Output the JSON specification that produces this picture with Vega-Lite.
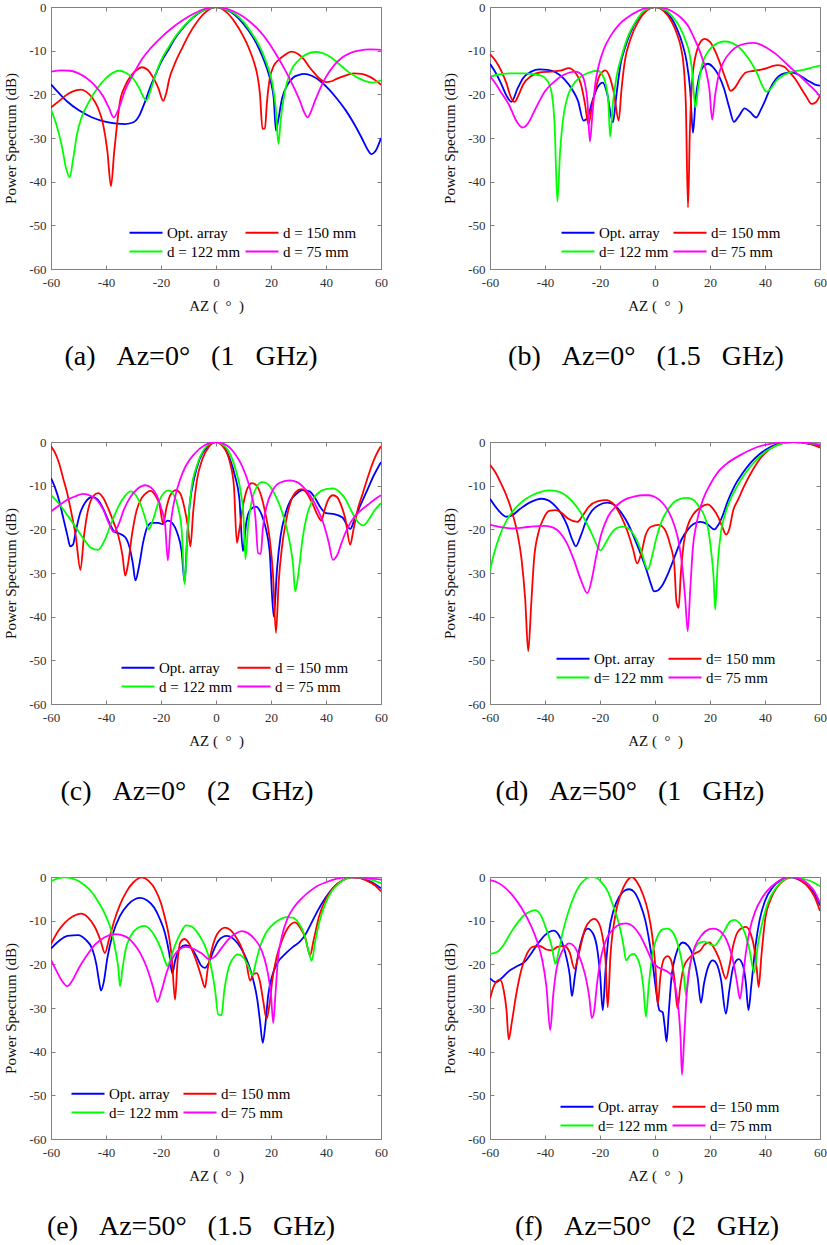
{
"$schema": "https://vega.github.io/schema/vega-lite/v6.json",
"padding": {"left": 3, "top": 0, "right": 2, "bottom": 0},
"background": "white",
"datasets": {
"a": [
{"s":"O","x":-60,"y":-17.7},{"s":"O","x":-57,"y":-19.8},{"s":"O","x":-54,"y":-21.7},{"s":"O","x":-50,"y":-23.6},{"s":"O","x":-45,"y":-25.3},{"s":"O","x":-40,"y":-26.3},{"s":"O","x":-36,"y":-26.7},{"s":"O","x":-33,"y":-26.8},{"s":"O","x":-30,"y":-26.4},{"s":"O","x":-28,"y":-25},{"s":"O","x":-26,"y":-22},{"s":"O","x":-24,"y":-18.5},{"s":"O","x":-22,"y":-15.5},{"s":"O","x":-20,"y":-12.7},{"s":"O","x":-17,"y":-9.5},{"s":"O","x":-15,"y":-7.3},{"s":"O","x":-12,"y":-4.8},{"s":"O","x":-10,"y":-3.4},{"s":"O","x":-7,"y":-1.7},{"s":"O","x":-4,"y":-0.6},{"s":"O","x":0,"y":0},{"s":"O","x":4,"y":-0.7},{"s":"O","x":7,"y":-1.9},{"s":"O","x":10,"y":-3.9},{"s":"O","x":13,"y":-6.5},{"s":"O","x":15,"y":-8.7},{"s":"O","x":17,"y":-11.5},{"s":"O","x":19,"y":-15},{"s":"O","x":20,"y":-17.3},{"s":"O","x":21,"y":-21},{"s":"O","x":21.8,"y":-28.3},{"s":"O","x":22.6,"y":-26},{"s":"O","x":24,"y":-21},{"s":"O","x":26,"y":-17.8},{"s":"O","x":28,"y":-16.2},{"s":"O","x":30,"y":-15.6},{"s":"O","x":32,"y":-15.3},{"s":"O","x":35,"y":-15.8},{"s":"O","x":38,"y":-17},{"s":"O","x":41,"y":-18.8},{"s":"O","x":44,"y":-21},{"s":"O","x":47,"y":-23.5},{"s":"O","x":50,"y":-26.5},{"s":"O","x":53,"y":-30},{"s":"O","x":55,"y":-32.5},{"s":"O","x":56.5,"y":-33.7},{"s":"O","x":58,"y":-33},{"s":"O","x":60,"y":-30},
{"s":"R","x":-60,"y":-23},{"s":"R","x":-57,"y":-21.5},{"s":"R","x":-54,"y":-20},{"s":"R","x":-51,"y":-19.1},{"s":"R","x":-49,"y":-18.9},{"s":"R","x":-47,"y":-19.5},{"s":"R","x":-45,"y":-20.8},{"s":"R","x":-43,"y":-23},{"s":"R","x":-41,"y":-27},{"s":"R","x":-39.5,"y":-33},{"s":"R","x":-38.2,"y":-41},{"s":"R","x":-37,"y":-33},{"s":"R","x":-36,"y":-27},{"s":"R","x":-35,"y":-22},{"s":"R","x":-33,"y":-18},{"s":"R","x":-31,"y":-15.8},{"s":"R","x":-29,"y":-14.5},{"s":"R","x":-27,"y":-13.8},{"s":"R","x":-25,"y":-14.3},{"s":"R","x":-23,"y":-16},{"s":"R","x":-21,"y":-18.5},{"s":"R","x":-19.2,"y":-21.5},{"s":"R","x":-18,"y":-19.5},{"s":"R","x":-17,"y":-16.5},{"s":"R","x":-15,"y":-13},{"s":"R","x":-12,"y":-9},{"s":"R","x":-10,"y":-6.5},{"s":"R","x":-7,"y":-3.5},{"s":"R","x":-4,"y":-1.3},{"s":"R","x":0,"y":0},{"s":"R","x":4,"y":-1.3},{"s":"R","x":7,"y":-3.6},{"s":"R","x":10,"y":-6.8},{"s":"R","x":12,"y":-9.5},{"s":"R","x":14,"y":-13},{"s":"R","x":15,"y":-15.5},{"s":"R","x":16,"y":-20},{"s":"R","x":16.9,"y":-27.9},{"s":"R","x":17.8,"y":-27.8},{"s":"R","x":18.5,"y":-22},{"s":"R","x":19.5,"y":-16.5},{"s":"R","x":21,"y":-13.5},{"s":"R","x":23,"y":-12},{"s":"R","x":25,"y":-11},{"s":"R","x":27.3,"y":-10.2},{"s":"R","x":30,"y":-10.8},{"s":"R","x":32,"y":-12},{"s":"R","x":34,"y":-13.8},{"s":"R","x":36,"y":-15.3},{"s":"R","x":38,"y":-16.6},{"s":"R","x":40,"y":-17.2},{"s":"R","x":42,"y":-17},{"s":"R","x":44,"y":-16.4},{"s":"R","x":47,"y":-15.7},{"s":"R","x":50,"y":-15.2},{"s":"R","x":53,"y":-15.3},{"s":"R","x":56,"y":-16},{"s":"R","x":58,"y":-16.8},{"s":"R","x":60,"y":-17.8},
{"s":"G","x":-60,"y":-23.5},{"s":"G","x":-58,"y":-27},{"s":"G","x":-56,"y":-32},{"s":"G","x":-54.5,"y":-37},{"s":"G","x":-53.2,"y":-39},{"s":"G","x":-52,"y":-35},{"s":"G","x":-50.5,"y":-29},{"s":"G","x":-49,"y":-25.5},{"s":"G","x":-46,"y":-21.5},{"s":"G","x":-43,"y":-18.5},{"s":"G","x":-40,"y":-16.3},{"s":"G","x":-37,"y":-14.9},{"s":"G","x":-35,"y":-14.6},{"s":"G","x":-33,"y":-15},{"s":"G","x":-30,"y":-16.5},{"s":"G","x":-28,"y":-18.5},{"s":"G","x":-26.5,"y":-20.5},{"s":"G","x":-25.3,"y":-21.4},{"s":"G","x":-24,"y":-19.5},{"s":"G","x":-22,"y":-15.5},{"s":"G","x":-20,"y":-12.3},{"s":"G","x":-17,"y":-9},{"s":"G","x":-15,"y":-7},{"s":"G","x":-12,"y":-4.6},{"s":"G","x":-10,"y":-3.3},{"s":"G","x":-7,"y":-1.6},{"s":"G","x":-4,"y":-0.6},{"s":"G","x":0,"y":0},{"s":"G","x":4,"y":-0.6},{"s":"G","x":7,"y":-1.6},{"s":"G","x":10,"y":-3.4},{"s":"G","x":13,"y":-6},{"s":"G","x":15,"y":-8},{"s":"G","x":17,"y":-10.6},{"s":"G","x":19,"y":-14},{"s":"G","x":20.5,"y":-17.5},{"s":"G","x":21.7,"y":-23},{"s":"G","x":22.7,"y":-31.4},{"s":"G","x":23.5,"y":-26},{"s":"G","x":25,"y":-19.5},{"s":"G","x":27,"y":-15},{"s":"G","x":30,"y":-12.2},{"s":"G","x":33,"y":-10.8},{"s":"G","x":36,"y":-10.3},{"s":"G","x":39,"y":-10.6},{"s":"G","x":42,"y":-11.6},{"s":"G","x":45,"y":-13.2},{"s":"G","x":48,"y":-14.8},{"s":"G","x":51,"y":-16},{"s":"G","x":54,"y":-16.9},{"s":"G","x":57,"y":-17.3},{"s":"G","x":60,"y":-16.8},
{"s":"M","x":-60,"y":-14.8},{"s":"M","x":-56,"y":-14.5},{"s":"M","x":-53,"y":-14.6},{"s":"M","x":-50,"y":-15.2},{"s":"M","x":-47,"y":-16.3},{"s":"M","x":-44,"y":-18},{"s":"M","x":-41,"y":-20.5},{"s":"M","x":-39,"y":-23},{"s":"M","x":-37.2,"y":-25.3},{"s":"M","x":-35.5,"y":-23.5},{"s":"M","x":-33,"y":-19},{"s":"M","x":-30,"y":-15.3},{"s":"M","x":-27,"y":-12},{"s":"M","x":-24,"y":-9.6},{"s":"M","x":-20,"y":-7},{"s":"M","x":-16,"y":-4.8},{"s":"M","x":-12,"y":-3},{"s":"M","x":-8,"y":-1.5},{"s":"M","x":-4,"y":-0.4},{"s":"M","x":0,"y":0},{"s":"M","x":4,"y":-0.4},{"s":"M","x":8,"y":-1.5},{"s":"M","x":12,"y":-3.2},{"s":"M","x":16,"y":-5.6},{"s":"M","x":19,"y":-8},{"s":"M","x":22,"y":-11},{"s":"M","x":25,"y":-14.3},{"s":"M","x":28,"y":-18},{"s":"M","x":30.5,"y":-21.5},{"s":"M","x":32,"y":-24},{"s":"M","x":33.3,"y":-25.3},{"s":"M","x":34.5,"y":-24},{"s":"M","x":36,"y":-21.5},{"s":"M","x":38,"y":-18.5},{"s":"M","x":40,"y":-16},{"s":"M","x":43,"y":-13.3},{"s":"M","x":46,"y":-11.5},{"s":"M","x":49,"y":-10.5},{"s":"M","x":52,"y":-10},{"s":"M","x":56,"y":-9.7},{"s":"M","x":60,"y":-9.8}
],
"b": [
{"s":"O","x":-60,"y":-13},{"s":"O","x":-58,"y":-15},{"s":"O","x":-56,"y":-17.5},{"s":"O","x":-54,"y":-20.3},{"s":"O","x":-52.2,"y":-21.7},{"s":"O","x":-50,"y":-18.7},{"s":"O","x":-48,"y":-16.3},{"s":"O","x":-45,"y":-14.8},{"s":"O","x":-42,"y":-14.3},{"s":"O","x":-39,"y":-14.4},{"s":"O","x":-36,"y":-15},{"s":"O","x":-33,"y":-16.5},{"s":"O","x":-30,"y":-19},{"s":"O","x":-28,"y":-21.5},{"s":"O","x":-26,"y":-26},{"s":"O","x":-24.5,"y":-25.3},{"s":"O","x":-23,"y":-22},{"s":"O","x":-21,"y":-18.5},{"s":"O","x":-19,"y":-17.3},{"s":"O","x":-17.5,"y":-19.5},{"s":"O","x":-15.3,"y":-26.4},{"s":"O","x":-14,"y":-20},{"s":"O","x":-12.5,"y":-13},{"s":"O","x":-11,"y":-9.5},{"s":"O","x":-9,"y":-6},{"s":"O","x":-6,"y":-2.5},{"s":"O","x":-3,"y":-0.6},{"s":"O","x":0,"y":0},{"s":"O","x":3,"y":-0.6},{"s":"O","x":6,"y":-2.6},{"s":"O","x":8,"y":-5},{"s":"O","x":10,"y":-8.5},{"s":"O","x":11.5,"y":-12.5},{"s":"O","x":12.8,"y":-19},{"s":"O","x":13.8,"y":-28.8},{"s":"O","x":14.8,"y":-21},{"s":"O","x":16,"y":-16},{"s":"O","x":17.5,"y":-13.7},{"s":"O","x":19.2,"y":-13},{"s":"O","x":21,"y":-13.7},{"s":"O","x":23,"y":-15.5},{"s":"O","x":25,"y":-18.5},{"s":"O","x":27,"y":-23},{"s":"O","x":28.7,"y":-26.3},{"s":"O","x":30.5,"y":-25},{"s":"O","x":32.6,"y":-23.2},{"s":"O","x":34.5,"y":-24},{"s":"O","x":36.8,"y":-25.3},{"s":"O","x":38.5,"y":-23.5},{"s":"O","x":40,"y":-21.5},{"s":"O","x":42,"y":-18.5},{"s":"O","x":44,"y":-16.5},{"s":"O","x":47,"y":-15.2},{"s":"O","x":50,"y":-15},{"s":"O","x":53,"y":-15.8},{"s":"O","x":56,"y":-17},{"s":"O","x":58,"y":-17.7},{"s":"O","x":60,"y":-18},
{"s":"R","x":-60,"y":-10.8},{"s":"R","x":-58,"y":-12.3},{"s":"R","x":-56,"y":-14.5},{"s":"R","x":-54,"y":-17.5},{"s":"R","x":-52.5,"y":-20.5},{"s":"R","x":-51,"y":-21.7},{"s":"R","x":-49.5,"y":-20},{"s":"R","x":-48,"y":-17.8},{"s":"R","x":-45,"y":-15.8},{"s":"R","x":-42,"y":-15},{"s":"R","x":-38,"y":-14.8},{"s":"R","x":-34,"y":-14.5},{"s":"R","x":-31.4,"y":-14},{"s":"R","x":-29,"y":-15},{"s":"R","x":-27,"y":-17.5},{"s":"R","x":-25.5,"y":-22},{"s":"R","x":-24.2,"y":-26.9},{"s":"R","x":-23,"y":-23},{"s":"R","x":-21.5,"y":-18.5},{"s":"R","x":-20,"y":-15.5},{"s":"R","x":-18,"y":-14.5},{"s":"R","x":-16.5,"y":-16},{"s":"R","x":-15,"y":-19.5},{"s":"R","x":-13.2,"y":-26},{"s":"R","x":-12.2,"y":-19},{"s":"R","x":-11,"y":-12.5},{"s":"R","x":-9,"y":-7.5},{"s":"R","x":-6,"y":-3.2},{"s":"R","x":-3,"y":-0.8},{"s":"R","x":0,"y":0},{"s":"R","x":3,"y":-0.8},{"s":"R","x":6,"y":-3.3},{"s":"R","x":8,"y":-6.2},{"s":"R","x":9.5,"y":-9.5},{"s":"R","x":10.5,"y":-14},{"s":"R","x":11.2,"y":-22},{"s":"R","x":12,"y":-45.9},{"s":"R","x":12.7,"y":-28},{"s":"R","x":13.5,"y":-17},{"s":"R","x":15,"y":-10.5},{"s":"R","x":16.5,"y":-8},{"s":"R","x":18,"y":-7.3},{"s":"R","x":20,"y":-8},{"s":"R","x":22,"y":-10.3},{"s":"R","x":24,"y":-13.5},{"s":"R","x":26,"y":-17},{"s":"R","x":27.5,"y":-19.2},{"s":"R","x":29,"y":-18.5},{"s":"R","x":31,"y":-16.5},{"s":"R","x":33,"y":-15},{"s":"R","x":36,"y":-14.6},{"s":"R","x":39,"y":-14.3},{"s":"R","x":42,"y":-13.7},{"s":"R","x":44.7,"y":-13.3},{"s":"R","x":47,"y":-13.7},{"s":"R","x":49,"y":-15},{"s":"R","x":51,"y":-16.5},{"s":"R","x":53,"y":-18.5},{"s":"R","x":55,"y":-20.5},{"s":"R","x":56.9,"y":-22.2},{"s":"R","x":58.5,"y":-21.8},{"s":"R","x":60,"y":-20.3},
{"s":"G","x":-60,"y":-15.9},{"s":"G","x":-56,"y":-15.4},{"s":"G","x":-52,"y":-15.2},{"s":"G","x":-48,"y":-15.2},{"s":"G","x":-44,"y":-15.4},{"s":"G","x":-41,"y":-15.8},{"s":"G","x":-39,"y":-17},{"s":"G","x":-37.5,"y":-20},{"s":"G","x":-36.5,"y":-27},{"s":"G","x":-35.5,"y":-44.6},{"s":"G","x":-34.5,"y":-33},{"s":"G","x":-33.5,"y":-26},{"s":"G","x":-32,"y":-21},{"s":"G","x":-30,"y":-18},{"s":"G","x":-27,"y":-16},{"s":"G","x":-24,"y":-15},{"s":"G","x":-21,"y":-14.6},{"s":"G","x":-19.5,"y":-15.2},{"s":"G","x":-18,"y":-17.5},{"s":"G","x":-17,"y":-21.5},{"s":"G","x":-16.3,"y":-29.7},{"s":"G","x":-15.3,"y":-22},{"s":"G","x":-14,"y":-16},{"s":"G","x":-12,"y":-11},{"s":"G","x":-10,"y":-7},{"s":"G","x":-7,"y":-3.3},{"s":"G","x":-4,"y":-0.9},{"s":"G","x":0,"y":0},{"s":"G","x":4,"y":-0.8},{"s":"G","x":7,"y":-2.7},{"s":"G","x":9,"y":-4.6},{"s":"G","x":11,"y":-7.5},{"s":"G","x":12.5,"y":-10.5},{"s":"G","x":13.5,"y":-14.5},{"s":"G","x":14.7,"y":-23},{"s":"G","x":15.8,"y":-18},{"s":"G","x":17,"y":-13.5},{"s":"G","x":19,"y":-10.5},{"s":"G","x":21,"y":-9},{"s":"G","x":23,"y":-8.2},{"s":"G","x":25.3,"y":-7.9},{"s":"G","x":28,"y":-8.2},{"s":"G","x":31,"y":-9.5},{"s":"G","x":34,"y":-11.8},{"s":"G","x":37,"y":-15},{"s":"G","x":39,"y":-18},{"s":"G","x":40.5,"y":-19.4},{"s":"G","x":42,"y":-18.8},{"s":"G","x":44,"y":-17},{"s":"G","x":47,"y":-15.5},{"s":"G","x":50,"y":-14.8},{"s":"G","x":54,"y":-14.4},{"s":"G","x":57,"y":-13.9},{"s":"G","x":60,"y":-13.4},
{"s":"M","x":-60,"y":-15.9},{"s":"M","x":-58,"y":-17.5},{"s":"M","x":-56,"y":-19.5},{"s":"M","x":-53,"y":-22.5},{"s":"M","x":-50.5,"y":-26},{"s":"M","x":-48.2,"y":-27.6},{"s":"M","x":-46,"y":-26.5},{"s":"M","x":-44,"y":-24},{"s":"M","x":-42,"y":-21.5},{"s":"M","x":-40,"y":-19.3},{"s":"M","x":-37,"y":-17.3},{"s":"M","x":-34,"y":-15.8},{"s":"M","x":-31,"y":-15},{"s":"M","x":-29,"y":-14.8},{"s":"M","x":-27,"y":-15.3},{"s":"M","x":-25.5,"y":-17.5},{"s":"M","x":-24.5,"y":-22},{"s":"M","x":-23.7,"y":-30.8},{"s":"M","x":-22.8,"y":-25},{"s":"M","x":-21.8,"y":-18},{"s":"M","x":-20.5,"y":-13.5},{"s":"M","x":-18.5,"y":-9.5},{"s":"M","x":-16,"y":-6.5},{"s":"M","x":-13,"y":-4},{"s":"M","x":-10,"y":-2.4},{"s":"M","x":-6,"y":-0.9},{"s":"M","x":-3,"y":-0.2},{"s":"M","x":0,"y":0},{"s":"M","x":3,"y":-0.2},{"s":"M","x":6,"y":-0.9},{"s":"M","x":9,"y":-2.2},{"s":"M","x":12,"y":-4.3},{"s":"M","x":14.5,"y":-7.5},{"s":"M","x":16.5,"y":-10.5},{"s":"M","x":18.5,"y":-14.5},{"s":"M","x":19.8,"y":-19},{"s":"M","x":20.8,"y":-25.8},{"s":"M","x":21.8,"y":-20.5},{"s":"M","x":23,"y":-16},{"s":"M","x":25,"y":-12.5},{"s":"M","x":27.5,"y":-10.3},{"s":"M","x":30,"y":-9},{"s":"M","x":33,"y":-8.4},{"s":"M","x":35.6,"y":-8.2},{"s":"M","x":38,"y":-8.5},{"s":"M","x":41,"y":-9.5},{"s":"M","x":44,"y":-10.8},{"s":"M","x":47,"y":-12.5},{"s":"M","x":50,"y":-14.3},{"s":"M","x":53,"y":-16},{"s":"M","x":56,"y":-17.8},{"s":"M","x":58,"y":-19},{"s":"M","x":60,"y":-20.5}
],
"c": [
{"s":"O","x":-60,"y":-8.3},{"s":"O","x":-58.5,"y":-10.5},{"s":"O","x":-57,"y":-13.5},{"s":"O","x":-55.5,"y":-17.5},{"s":"O","x":-54,"y":-21.5},{"s":"O","x":-53,"y":-23.9},{"s":"O","x":-52,"y":-23.5},{"s":"O","x":-51,"y":-20.5},{"s":"O","x":-49.5,"y":-16.5},{"s":"O","x":-47.5,"y":-13.8},{"s":"O","x":-45,"y":-12.6},{"s":"O","x":-43,"y":-13.2},{"s":"O","x":-41,"y":-15.3},{"s":"O","x":-39,"y":-18.2},{"s":"O","x":-37,"y":-20.5},{"s":"O","x":-35,"y":-21},{"s":"O","x":-33,"y":-21.8},{"s":"O","x":-31.5,"y":-24},{"s":"O","x":-30.2,"y":-28},{"s":"O","x":-29.3,"y":-31.7},{"s":"O","x":-28,"y":-28.5},{"s":"O","x":-26.5,"y":-23},{"s":"O","x":-25,"y":-19.5},{"s":"O","x":-23.5,"y":-18.5},{"s":"O","x":-21,"y":-18.5},{"s":"O","x":-19.5,"y":-18.8},{"s":"O","x":-17.5,"y":-18},{"s":"O","x":-16,"y":-18.5},{"s":"O","x":-14,"y":-21},{"s":"O","x":-12.5,"y":-25},{"s":"O","x":-11.4,"y":-32.1},{"s":"O","x":-10.5,"y":-22},{"s":"O","x":-9.5,"y":-14},{"s":"O","x":-8,"y":-8.5},{"s":"O","x":-6,"y":-4},{"s":"O","x":-3,"y":-1},{"s":"O","x":0,"y":0},{"s":"O","x":3,"y":-1.2},{"s":"O","x":5,"y":-3.8},{"s":"O","x":7,"y":-8},{"s":"O","x":8.5,"y":-13},{"s":"O","x":9.8,"y":-25},{"s":"O","x":11,"y":-18.5},{"s":"O","x":12.5,"y":-15.5},{"s":"O","x":14.5,"y":-14.8},{"s":"O","x":16.5,"y":-16.5},{"s":"O","x":18,"y":-19.5},{"s":"O","x":19.5,"y":-25},{"s":"O","x":21,"y":-40},{"s":"O","x":22.2,"y":-29},{"s":"O","x":23.5,"y":-21.5},{"s":"O","x":25,"y":-17},{"s":"O","x":27,"y":-13.5},{"s":"O","x":29,"y":-12},{"s":"O","x":31.5,"y":-11},{"s":"O","x":34,"y":-11.3},{"s":"O","x":36,"y":-12.8},{"s":"O","x":38,"y":-15},{"s":"O","x":40,"y":-16.3},{"s":"O","x":43,"y":-16.5},{"s":"O","x":46,"y":-17.3},{"s":"O","x":48.8,"y":-19.9},{"s":"O","x":50.5,"y":-17.5},{"s":"O","x":52.5,"y":-14.5},{"s":"O","x":55,"y":-11},{"s":"O","x":57.5,"y":-7.5},{"s":"O","x":60,"y":-4.6},
{"s":"R","x":-60,"y":-1},{"s":"R","x":-58.5,"y":-2.5},{"s":"R","x":-57,"y":-5},{"s":"R","x":-55.5,"y":-8.5},{"s":"R","x":-54,"y":-12},{"s":"R","x":-52.5,"y":-16.5},{"s":"R","x":-51,"y":-21.5},{"s":"R","x":-49.3,"y":-29.3},{"s":"R","x":-48,"y":-21.5},{"s":"R","x":-46.5,"y":-15.5},{"s":"R","x":-44.5,"y":-12.3},{"s":"R","x":-42.9,"y":-11.7},{"s":"R","x":-41,"y":-12.8},{"s":"R","x":-39,"y":-15.5},{"s":"R","x":-37,"y":-18.8},{"s":"R","x":-35.5,"y":-21.5},{"s":"R","x":-34,"y":-26},{"s":"R","x":-33,"y":-30.6},{"s":"R","x":-32,"y":-28},{"s":"R","x":-30.5,"y":-21},{"s":"R","x":-29,"y":-16},{"s":"R","x":-27,"y":-12.8},{"s":"R","x":-25,"y":-11.5},{"s":"R","x":-23.9,"y":-11.2},{"s":"R","x":-22,"y":-12.3},{"s":"R","x":-20.5,"y":-14.5},{"s":"R","x":-19.2,"y":-18.7},{"s":"R","x":-18,"y":-15},{"s":"R","x":-16.5,"y":-12},{"s":"R","x":-14.5,"y":-11},{"s":"R","x":-13,"y":-11.8},{"s":"R","x":-11.5,"y":-15},{"s":"R","x":-10.2,"y":-19.5},{"s":"R","x":-9.3,"y":-23.9},{"s":"R","x":-8.3,"y":-16},{"s":"R","x":-7,"y":-9},{"s":"R","x":-5,"y":-4},{"s":"R","x":-2.5,"y":-1},{"s":"R","x":0,"y":0},{"s":"R","x":2.5,"y":-1},{"s":"R","x":5,"y":-4.5},{"s":"R","x":6.5,"y":-10},{"s":"R","x":7.6,"y":-23.1},{"s":"R","x":8.5,"y":-20},{"s":"R","x":10,"y":-14},{"s":"R","x":11.5,"y":-10.5},{"s":"R","x":13.1,"y":-9.4},{"s":"R","x":15,"y":-10.2},{"s":"R","x":16.5,"y":-12.5},{"s":"R","x":18,"y":-16.5},{"s":"R","x":19.5,"y":-22},{"s":"R","x":20.7,"y":-30},{"s":"R","x":21.8,"y":-43.7},{"s":"R","x":22.8,"y":-32},{"s":"R","x":24,"y":-24},{"s":"R","x":25.5,"y":-18},{"s":"R","x":27,"y":-14},{"s":"R","x":29,"y":-11.5},{"s":"R","x":31,"y":-10.8},{"s":"R","x":33,"y":-11.7},{"s":"R","x":35,"y":-14},{"s":"R","x":37,"y":-16.8},{"s":"R","x":38.3,"y":-18},{"s":"R","x":39.5,"y":-15.5},{"s":"R","x":41,"y":-13},{"s":"R","x":42.5,"y":-12.2},{"s":"R","x":44,"y":-12.6},{"s":"R","x":45.5,"y":-14.5},{"s":"R","x":47,"y":-17.5},{"s":"R","x":48.8,"y":-23.5},{"s":"R","x":50,"y":-20},{"s":"R","x":51.5,"y":-15.5},{"s":"R","x":53.5,"y":-11.5},{"s":"R","x":55.5,"y":-7.5},{"s":"R","x":57.5,"y":-4},{"s":"R","x":59,"y":-2},{"s":"R","x":60,"y":-1},
{"s":"G","x":-60,"y":-12.1},{"s":"G","x":-57,"y":-14.2},{"s":"G","x":-54,"y":-16.8},{"s":"G","x":-51,"y":-19.5},{"s":"G","x":-48,"y":-22.3},{"s":"G","x":-45.5,"y":-24.2},{"s":"G","x":-42.9,"y":-24.7},{"s":"G","x":-40.5,"y":-22.5},{"s":"G","x":-38,"y":-18.5},{"s":"G","x":-35.5,"y":-14.8},{"s":"G","x":-33,"y":-12.3},{"s":"G","x":-31.1,"y":-11.3},{"s":"G","x":-29,"y":-12.3},{"s":"G","x":-27,"y":-15},{"s":"G","x":-25.5,"y":-18},{"s":"G","x":-24.5,"y":-20},{"s":"G","x":-23,"y":-18},{"s":"G","x":-21,"y":-14},{"s":"G","x":-19,"y":-11.7},{"s":"G","x":-17.2,"y":-11.1},{"s":"G","x":-15.5,"y":-12},{"s":"G","x":-14,"y":-14.5},{"s":"G","x":-12.5,"y":-20},{"s":"G","x":-11.4,"y":-32.6},{"s":"G","x":-10.3,"y":-20},{"s":"G","x":-9,"y":-11},{"s":"G","x":-7,"y":-5.5},{"s":"G","x":-4.5,"y":-1.8},{"s":"G","x":-2,"y":-0.3},{"s":"G","x":0,"y":0},{"s":"G","x":2,"y":-0.4},{"s":"G","x":4.5,"y":-2},{"s":"G","x":7,"y":-6},{"s":"G","x":9,"y":-11.5},{"s":"G","x":10,"y":-17},{"s":"G","x":10.7,"y":-26.8},{"s":"G","x":11.7,"y":-19},{"s":"G","x":13,"y":-13.5},{"s":"G","x":14.8,"y":-10.3},{"s":"G","x":16.7,"y":-9.2},{"s":"G","x":18.5,"y":-9.5},{"s":"G","x":20.5,"y":-11},{"s":"G","x":22.5,"y":-13.5},{"s":"G","x":24.5,"y":-17},{"s":"G","x":26.5,"y":-22},{"s":"G","x":28,"y":-28},{"s":"G","x":28.8,"y":-34.2},{"s":"G","x":30,"y":-30},{"s":"G","x":31.5,"y":-22},{"s":"G","x":33,"y":-17},{"s":"G","x":35,"y":-13.5},{"s":"G","x":38,"y":-11.3},{"s":"G","x":40,"y":-10.8},{"s":"G","x":42.6,"y":-10.6},{"s":"G","x":45,"y":-11.5},{"s":"G","x":47,"y":-13},{"s":"G","x":49,"y":-15.5},{"s":"G","x":51,"y":-17.8},{"s":"G","x":53.6,"y":-19.1},{"s":"G","x":55.5,"y":-17.8},{"s":"G","x":57.5,"y":-15.8},{"s":"G","x":60,"y":-14},
{"s":"M","x":-60,"y":-15.9},{"s":"M","x":-57,"y":-14.5},{"s":"M","x":-54,"y":-13.2},{"s":"M","x":-51,"y":-12.4},{"s":"M","x":-48.4,"y":-11.9},{"s":"M","x":-45.5,"y":-12.3},{"s":"M","x":-43,"y":-13.5},{"s":"M","x":-41,"y":-15.5},{"s":"M","x":-39,"y":-18.5},{"s":"M","x":-37.2,"y":-20.6},{"s":"M","x":-35.5,"y":-19},{"s":"M","x":-33.5,"y":-15.5},{"s":"M","x":-31,"y":-12.5},{"s":"M","x":-28.5,"y":-10.7},{"s":"M","x":-25.7,"y":-9.9},{"s":"M","x":-23.5,"y":-10.5},{"s":"M","x":-21.5,"y":-12.3},{"s":"M","x":-20,"y":-15},{"s":"M","x":-18.5,"y":-19},{"s":"M","x":-17.5,"y":-27.1},{"s":"M","x":-16.5,"y":-19},{"s":"M","x":-15,"y":-13},{"s":"M","x":-13,"y":-8.5},{"s":"M","x":-11,"y":-5.5},{"s":"M","x":-8,"y":-2.8},{"s":"M","x":-4,"y":-0.7},{"s":"M","x":0,"y":0},{"s":"M","x":4,"y":-0.8},{"s":"M","x":7,"y":-2.8},{"s":"M","x":9.5,"y":-5.5},{"s":"M","x":11.5,"y":-8.8},{"s":"M","x":13,"y":-12.3},{"s":"M","x":14.3,"y":-17},{"s":"M","x":15.3,"y":-25.4},{"s":"M","x":16.3,"y":-25.6},{"s":"M","x":17,"y":-20},{"s":"M","x":18.5,"y":-14.5},{"s":"M","x":20.5,"y":-11.2},{"s":"M","x":23,"y":-9.4},{"s":"M","x":26.7,"y":-8.8},{"s":"M","x":29.5,"y":-9.2},{"s":"M","x":32,"y":-10.5},{"s":"M","x":34.5,"y":-12.5},{"s":"M","x":37,"y":-15.5},{"s":"M","x":39,"y":-18.5},{"s":"M","x":41,"y":-23},{"s":"M","x":42.5,"y":-27},{"s":"M","x":44,"y":-26},{"s":"M","x":46,"y":-22.5},{"s":"M","x":48,"y":-19.5},{"s":"M","x":50.5,"y":-17},{"s":"M","x":53,"y":-15.5},{"s":"M","x":56,"y":-14},{"s":"M","x":58,"y":-13},{"s":"M","x":60,"y":-12.2}
],
"d": [
{"s":"O","x":-60,"y":-13},{"s":"O","x":-58,"y":-14.8},{"s":"O","x":-56,"y":-16.3},{"s":"O","x":-54,"y":-17.1},{"s":"O","x":-52,"y":-16.8},{"s":"O","x":-49,"y":-15.3},{"s":"O","x":-46,"y":-14},{"s":"O","x":-43,"y":-13.2},{"s":"O","x":-41.5,"y":-13},{"s":"O","x":-39,"y":-13.3},{"s":"O","x":-36.5,"y":-14.5},{"s":"O","x":-34,"y":-16.5},{"s":"O","x":-32,"y":-19},{"s":"O","x":-30,"y":-22.5},{"s":"O","x":-28.8,"y":-23.9},{"s":"O","x":-27,"y":-21.5},{"s":"O","x":-25,"y":-18},{"s":"O","x":-23,"y":-15.8},{"s":"O","x":-20.5,"y":-14.5},{"s":"O","x":-17.3,"y":-13.9},{"s":"O","x":-15,"y":-14.3},{"s":"O","x":-12.5,"y":-16},{"s":"O","x":-10,"y":-18.5},{"s":"O","x":-7.5,"y":-22},{"s":"O","x":-5,"y":-26},{"s":"O","x":-3,"y":-29.5},{"s":"O","x":-1.5,"y":-32.5},{"s":"O","x":-0.4,"y":-34.2},{"s":"O","x":1,"y":-34},{"s":"O","x":2.5,"y":-33},{"s":"O","x":4.5,"y":-30.5},{"s":"O","x":7,"y":-26.5},{"s":"O","x":9.5,"y":-22.5},{"s":"O","x":12,"y":-20},{"s":"O","x":14,"y":-18.8},{"s":"O","x":16.5,"y":-18.3},{"s":"O","x":19,"y":-18.8},{"s":"O","x":21.6,"y":-20},{"s":"O","x":23,"y":-19},{"s":"O","x":24.5,"y":-17},{"s":"O","x":26.5,"y":-13.5},{"s":"O","x":29,"y":-10},{"s":"O","x":32,"y":-7},{"s":"O","x":35,"y":-4.6},{"s":"O","x":38,"y":-2.8},{"s":"O","x":41,"y":-1.5},{"s":"O","x":44,"y":-0.6},{"s":"O","x":47,"y":-0.1},{"s":"O","x":50,"y":0},{"s":"O","x":53,"y":-0.1},{"s":"O","x":56,"y":-0.4},{"s":"O","x":60,"y":-0.9},
{"s":"R","x":-60,"y":-5.2},{"s":"R","x":-58,"y":-7},{"s":"R","x":-56,"y":-9.5},{"s":"R","x":-54,"y":-12.3},{"s":"R","x":-52,"y":-16},{"s":"R","x":-50,"y":-21},{"s":"R","x":-48.5,"y":-27},{"s":"R","x":-47.2,"y":-36},{"s":"R","x":-46.1,"y":-47.9},{"s":"R","x":-45,"y":-37},{"s":"R","x":-44,"y":-27},{"s":"R","x":-42.5,"y":-21},{"s":"R","x":-40.5,"y":-17.5},{"s":"R","x":-38.5,"y":-15.8},{"s":"R","x":-36.1,"y":-15.6},{"s":"R","x":-34,"y":-16.2},{"s":"R","x":-31.5,"y":-17.6},{"s":"R","x":-28.2,"y":-18.3},{"s":"R","x":-26.5,"y":-17},{"s":"R","x":-24,"y":-14.8},{"s":"R","x":-21,"y":-13.6},{"s":"R","x":-17.7,"y":-13.3},{"s":"R","x":-15,"y":-14.3},{"s":"R","x":-12.5,"y":-16.8},{"s":"R","x":-10,"y":-20.5},{"s":"R","x":-8,"y":-24.5},{"s":"R","x":-6.5,"y":-27.8},{"s":"R","x":-5,"y":-25.5},{"s":"R","x":-3.5,"y":-21.5},{"s":"R","x":-1.5,"y":-19.4},{"s":"R","x":1.4,"y":-19},{"s":"R","x":3.5,"y":-20},{"s":"R","x":5.5,"y":-23.5},{"s":"R","x":7,"y":-28},{"s":"R","x":7.8,"y":-36.5},{"s":"R","x":8.6,"y":-38},{"s":"R","x":9.4,"y":-30},{"s":"R","x":10.5,"y":-23},{"s":"R","x":12,"y":-19},{"s":"R","x":14,"y":-16.5},{"s":"R","x":16.5,"y":-15},{"s":"R","x":19.2,"y":-14.3},{"s":"R","x":21,"y":-15.2},{"s":"R","x":23,"y":-17.2},{"s":"R","x":24.5,"y":-19.5},{"s":"R","x":25.9,"y":-21.2},{"s":"R","x":27,"y":-20},{"s":"R","x":28.5,"y":-15.5},{"s":"R","x":30,"y":-13.5},{"s":"R","x":32.5,"y":-10},{"s":"R","x":35,"y":-7},{"s":"R","x":38,"y":-4},{"s":"R","x":41,"y":-2},{"s":"R","x":44,"y":-0.8},{"s":"R","x":47,"y":-0.2},{"s":"R","x":50,"y":0},{"s":"R","x":53,"y":-0.1},{"s":"R","x":56,"y":-0.4},{"s":"R","x":58,"y":-0.8},{"s":"R","x":60,"y":-1.3},
{"s":"G","x":-60,"y":-29.4},{"s":"G","x":-58.5,"y":-25.5},{"s":"G","x":-56.5,"y":-21.5},{"s":"G","x":-54,"y":-18},{"s":"G","x":-51,"y":-15.3},{"s":"G","x":-48,"y":-13.5},{"s":"G","x":-45,"y":-12.3},{"s":"G","x":-41.5,"y":-11.4},{"s":"G","x":-37.9,"y":-11.1},{"s":"G","x":-34.5,"y":-11.5},{"s":"G","x":-31.5,"y":-12.7},{"s":"G","x":-28.5,"y":-14.8},{"s":"G","x":-25.5,"y":-17.8},{"s":"G","x":-23,"y":-21},{"s":"G","x":-21,"y":-23.8},{"s":"G","x":-19.8,"y":-24.8},{"s":"G","x":-18,"y":-23.2},{"s":"G","x":-16,"y":-21},{"s":"G","x":-13.5,"y":-19.6},{"s":"G","x":-11.3,"y":-19.4},{"s":"G","x":-9,"y":-20.2},{"s":"G","x":-7,"y":-22},{"s":"G","x":-5,"y":-25},{"s":"G","x":-2.6,"y":-29.2},{"s":"G","x":-1,"y":-26},{"s":"G","x":0.5,"y":-22},{"s":"G","x":2.5,"y":-18},{"s":"G","x":5,"y":-15.2},{"s":"G","x":8,"y":-13.3},{"s":"G","x":11.7,"y":-12.8},{"s":"G","x":14,"y":-13.3},{"s":"G","x":16,"y":-14.8},{"s":"G","x":18,"y":-17},{"s":"G","x":19.5,"y":-20.5},{"s":"G","x":20.5,"y":-25.5},{"s":"G","x":21.3,"y":-31},{"s":"G","x":21.9,"y":-38.4},{"s":"G","x":22.8,"y":-28},{"s":"G","x":24,"y":-20.5},{"s":"G","x":25.5,"y":-16.5},{"s":"G","x":27.5,"y":-13},{"s":"G","x":30,"y":-10},{"s":"G","x":33,"y":-7},{"s":"G","x":36,"y":-4.7},{"s":"G","x":39,"y":-2.8},{"s":"G","x":42,"y":-1.5},{"s":"G","x":45,"y":-0.6},{"s":"G","x":48,"y":-0.1},{"s":"G","x":51,"y":0},{"s":"G","x":55,"y":-0.2},{"s":"G","x":60,"y":-0.6},
{"s":"M","x":-60,"y":-18.9},{"s":"M","x":-56,"y":-19.5},{"s":"M","x":-52,"y":-19.8},{"s":"M","x":-48,"y":-19.6},{"s":"M","x":-44,"y":-19.3},{"s":"M","x":-40,"y":-19.2},{"s":"M","x":-37,"y":-19.6},{"s":"M","x":-34.5,"y":-20.8},{"s":"M","x":-32,"y":-23.2},{"s":"M","x":-29.5,"y":-27},{"s":"M","x":-27,"y":-31.5},{"s":"M","x":-24.6,"y":-34.6},{"s":"M","x":-23,"y":-31.5},{"s":"M","x":-21.5,"y":-26.5},{"s":"M","x":-19.5,"y":-21},{"s":"M","x":-17,"y":-17},{"s":"M","x":-14,"y":-14.6},{"s":"M","x":-11,"y":-13.2},{"s":"M","x":-7.5,"y":-12.5},{"s":"M","x":-4.5,"y":-12.2},{"s":"M","x":-2.2,"y":-12.2},{"s":"M","x":0,"y":-12.6},{"s":"M","x":2.5,"y":-13.8},{"s":"M","x":5,"y":-16},{"s":"M","x":7,"y":-19},{"s":"M","x":8.8,"y":-23.5},{"s":"M","x":10,"y":-29},{"s":"M","x":11,"y":-36},{"s":"M","x":11.9,"y":-43.3},{"s":"M","x":12.8,"y":-34},{"s":"M","x":13.8,"y":-24},{"s":"M","x":15,"y":-19},{"s":"M","x":17.7,"y":-12.8},{"s":"M","x":20,"y":-9.8},{"s":"M","x":22.5,"y":-7.2},{"s":"M","x":26,"y":-5},{"s":"M","x":31,"y":-3},{"s":"M","x":37,"y":-1.2},{"s":"M","x":43,"y":-0.3},{"s":"M","x":47,"y":-0.05},{"s":"M","x":50,"y":0},{"s":"M","x":54,"y":-0.1},{"s":"M","x":57,"y":-0.3},{"s":"M","x":60,"y":-0.6}
],
"e": [
{"s":"O","x":-60,"y":-16.4},{"s":"O","x":-57,"y":-14.6},{"s":"O","x":-54,"y":-13.5},{"s":"O","x":-50.1,"y":-13.3},{"s":"O","x":-47.5,"y":-14.3},{"s":"O","x":-45,"y":-16.5},{"s":"O","x":-43.5,"y":-20},{"s":"O","x":-42.5,"y":-24},{"s":"O","x":-41.8,"y":-26},{"s":"O","x":-40.8,"y":-24},{"s":"O","x":-39.5,"y":-18.5},{"s":"O","x":-37.5,"y":-13},{"s":"O","x":-35,"y":-9},{"s":"O","x":-32,"y":-6.3},{"s":"O","x":-29.5,"y":-5.1},{"s":"O","x":-27.6,"y":-4.8},{"s":"O","x":-25,"y":-5.4},{"s":"O","x":-22.5,"y":-7},{"s":"O","x":-20.5,"y":-9.5},{"s":"O","x":-18.5,"y":-13},{"s":"O","x":-17,"y":-17.5},{"s":"O","x":-15.9,"y":-22.1},{"s":"O","x":-14.8,"y":-19},{"s":"O","x":-13,"y":-16.3},{"s":"O","x":-11,"y":-15.6},{"s":"O","x":-9,"y":-16.3},{"s":"O","x":-7,"y":-18.3},{"s":"O","x":-5.5,"y":-20.2},{"s":"O","x":-4,"y":-20.8},{"s":"O","x":-2.5,"y":-19.5},{"s":"O","x":-1,"y":-17},{"s":"O","x":1,"y":-14.5},{"s":"O","x":3.9,"y":-13.5},{"s":"O","x":6,"y":-14},{"s":"O","x":8,"y":-15.3},{"s":"O","x":10,"y":-17.3},{"s":"O","x":12,"y":-20.3},{"s":"O","x":13.5,"y":-23.5},{"s":"O","x":15,"y":-28},{"s":"O","x":16,"y":-33},{"s":"O","x":17,"y":-38},{"s":"O","x":18,"y":-33.5},{"s":"O","x":19,"y":-27},{"s":"O","x":20.5,"y":-22.5},{"s":"O","x":22.5,"y":-19.5},{"s":"O","x":25,"y":-17.7},{"s":"O","x":28,"y":-16},{"s":"O","x":30.5,"y":-14.8},{"s":"O","x":32.5,"y":-13.2},{"s":"O","x":34.5,"y":-10.8},{"s":"O","x":37,"y":-7.7},{"s":"O","x":40,"y":-4.6},{"s":"O","x":43,"y":-2.2},{"s":"O","x":46,"y":-0.8},{"s":"O","x":49,"y":-0.1},{"s":"O","x":51,"y":-0.1},{"s":"O","x":54,"y":-0.5},{"s":"O","x":57,"y":-1.3},{"s":"O","x":60,"y":-2.6},
{"s":"R","x":-60,"y":-15.4},{"s":"R","x":-57.5,"y":-12.5},{"s":"R","x":-55,"y":-10.5},{"s":"R","x":-52,"y":-9},{"s":"R","x":-49.1,"y":-8.4},{"s":"R","x":-46.5,"y":-9.3},{"s":"R","x":-44,"y":-11.5},{"s":"R","x":-42,"y":-14.5},{"s":"R","x":-40.4,"y":-17.4},{"s":"R","x":-39,"y":-14.5},{"s":"R","x":-37,"y":-10},{"s":"R","x":-35,"y":-6.5},{"s":"R","x":-32.5,"y":-3.3},{"s":"R","x":-30,"y":-1.2},{"s":"R","x":-27,"y":-0.1},{"s":"R","x":-24.5,"y":-0.9},{"s":"R","x":-22,"y":-3},{"s":"R","x":-20,"y":-6},{"s":"R","x":-18.5,"y":-9.5},{"s":"R","x":-17,"y":-14},{"s":"R","x":-16,"y":-19},{"s":"R","x":-14.9,"y":-28.1},{"s":"R","x":-14,"y":-19.5},{"s":"R","x":-13,"y":-15},{"s":"R","x":-11.5,"y":-14.2},{"s":"R","x":-10,"y":-15},{"s":"R","x":-8.5,"y":-17},{"s":"R","x":-7,"y":-19.5},{"s":"R","x":-5.5,"y":-22.5},{"s":"R","x":-4,"y":-25.3},{"s":"R","x":-3,"y":-21},{"s":"R","x":-1.5,"y":-16.5},{"s":"R","x":0.5,"y":-13},{"s":"R","x":3.3,"y":-11.6},{"s":"R","x":5.5,"y":-12.3},{"s":"R","x":7.5,"y":-14},{"s":"R","x":9.5,"y":-16.5},{"s":"R","x":11,"y":-19.5},{"s":"R","x":12.4,"y":-23.7},{"s":"R","x":13.6,"y":-22.3},{"s":"R","x":14.8,"y":-22},{"s":"R","x":16,"y":-24},{"s":"R","x":17.2,"y":-28.5},{"s":"R","x":18.4,"y":-32.5},{"s":"R","x":19.5,"y":-29},{"s":"R","x":20.5,"y":-23.5},{"s":"R","x":22,"y":-18.5},{"s":"R","x":24,"y":-14.5},{"s":"R","x":26,"y":-11.8},{"s":"R","x":28.7,"y":-10.4},{"s":"R","x":30.5,"y":-11.5},{"s":"R","x":32.5,"y":-14},{"s":"R","x":34.2,"y":-17.9},{"s":"R","x":35.5,"y":-14.5},{"s":"R","x":37.5,"y":-9},{"s":"R","x":40,"y":-5},{"s":"R","x":43,"y":-2.3},{"s":"R","x":46,"y":-0.8},{"s":"R","x":49,"y":-0.1},{"s":"R","x":52,"y":-0.2},{"s":"R","x":55,"y":-0.9},{"s":"R","x":58,"y":-2},{"s":"R","x":60,"y":-3.3},
{"s":"G","x":-60,"y":-1},{"s":"G","x":-57.5,"y":-0.3},{"s":"G","x":-55,"y":-0.1},{"s":"G","x":-52.5,"y":-0.3},{"s":"G","x":-50,"y":-0.9},{"s":"G","x":-47.5,"y":-2},{"s":"G","x":-45,"y":-3.6},{"s":"G","x":-42.5,"y":-6},{"s":"G","x":-40,"y":-9},{"s":"G","x":-38,"y":-12.5},{"s":"G","x":-36.5,"y":-17},{"s":"G","x":-35.5,"y":-21},{"s":"G","x":-34.9,"y":-25},{"s":"G","x":-34,"y":-21},{"s":"G","x":-33,"y":-17},{"s":"G","x":-31,"y":-13.5},{"s":"G","x":-28.5,"y":-11.7},{"s":"G","x":-26.1,"y":-11.2},{"s":"G","x":-24,"y":-12},{"s":"G","x":-22,"y":-13.8},{"s":"G","x":-20,"y":-16.5},{"s":"G","x":-18.5,"y":-19.3},{"s":"G","x":-17.6,"y":-20.4},{"s":"G","x":-16.5,"y":-18.5},{"s":"G","x":-14.5,"y":-15},{"s":"G","x":-12.5,"y":-12.4},{"s":"G","x":-10.9,"y":-11.1},{"s":"G","x":-9,"y":-11.3},{"s":"G","x":-7,"y":-12.5},{"s":"G","x":-5,"y":-14.5},{"s":"G","x":-3,"y":-17.5},{"s":"G","x":-1.5,"y":-21.5},{"s":"G","x":-0.3,"y":-26},{"s":"G","x":0.8,"y":-31.5},{"s":"G","x":2,"y":-31.7},{"s":"G","x":3,"y":-26},{"s":"G","x":4.5,"y":-21},{"s":"G","x":6,"y":-18.8},{"s":"G","x":8.1,"y":-17.7},{"s":"G","x":10,"y":-18.5},{"s":"G","x":11.8,"y":-20.5},{"s":"G","x":13.2,"y":-22.5},{"s":"G","x":14.5,"y":-19.5},{"s":"G","x":16,"y":-16},{"s":"G","x":18,"y":-13},{"s":"G","x":20.5,"y":-11},{"s":"G","x":23,"y":-9.8},{"s":"G","x":25.5,"y":-9.2},{"s":"G","x":27.9,"y":-9.3},{"s":"G","x":30,"y":-10.5},{"s":"G","x":32,"y":-13},{"s":"G","x":33.5,"y":-16.5},{"s":"G","x":34.8,"y":-19.2},{"s":"G","x":36,"y":-15},{"s":"G","x":37.5,"y":-10.5},{"s":"G","x":39.5,"y":-6.5},{"s":"G","x":42,"y":-3.3},{"s":"G","x":45,"y":-1.3},{"s":"G","x":48,"y":-0.2},{"s":"G","x":50,"y":0},{"s":"G","x":53,"y":-0.2},{"s":"G","x":57,"y":-0.7},{"s":"G","x":60,"y":-1.4},
{"s":"M","x":-60,"y":-19},{"s":"M","x":-58,"y":-21.5},{"s":"M","x":-56,"y":-23.8},{"s":"M","x":-54.1,"y":-25},{"s":"M","x":-52.5,"y":-24},{"s":"M","x":-50,"y":-21},{"s":"M","x":-47,"y":-18},{"s":"M","x":-44,"y":-15.5},{"s":"M","x":-40.5,"y":-13.8},{"s":"M","x":-36.7,"y":-13.1},{"s":"M","x":-33,"y":-13.6},{"s":"M","x":-30,"y":-15.2},{"s":"M","x":-27.5,"y":-17.5},{"s":"M","x":-25,"y":-21},{"s":"M","x":-23,"y":-25},{"s":"M","x":-21.3,"y":-28.6},{"s":"M","x":-19.8,"y":-26},{"s":"M","x":-18,"y":-22},{"s":"M","x":-16,"y":-18.8},{"s":"M","x":-14,"y":-17},{"s":"M","x":-11,"y":-16},{"s":"M","x":-8,"y":-16.5},{"s":"M","x":-5,"y":-17.6},{"s":"M","x":-2.5,"y":-18.8},{"s":"M","x":-0.5,"y":-18.3},{"s":"M","x":2,"y":-16.3},{"s":"M","x":4.5,"y":-14.3},{"s":"M","x":7,"y":-13},{"s":"M","x":9.3,"y":-12.4},{"s":"M","x":11.5,"y":-12.8},{"s":"M","x":14,"y":-14.2},{"s":"M","x":16,"y":-16},{"s":"M","x":17.5,"y":-18.5},{"s":"M","x":19,"y":-22.5},{"s":"M","x":20,"y":-27},{"s":"M","x":20.8,"y":-33.4},{"s":"M","x":21.6,"y":-27},{"s":"M","x":22.5,"y":-19},{"s":"M","x":24,"y":-13.5},{"s":"M","x":26,"y":-9.5},{"s":"M","x":28.5,"y":-6.8},{"s":"M","x":31,"y":-5},{"s":"M","x":34,"y":-3.3},{"s":"M","x":37,"y":-2},{"s":"M","x":40,"y":-1.2},{"s":"M","x":44,"y":-0.4},{"s":"M","x":48,"y":0},{"s":"M","x":52,"y":-0.1},{"s":"M","x":56,"y":-0.3},{"s":"M","x":60,"y":-0.6}
],
"f": [
{"s":"O","x":-60,"y":-23.2},{"s":"O","x":-57.8,"y":-24.1},{"s":"O","x":-56,"y":-23.3},{"s":"O","x":-53,"y":-21.5},{"s":"O","x":-50,"y":-20.4},{"s":"O","x":-47.5,"y":-19.5},{"s":"O","x":-45,"y":-17.5},{"s":"O","x":-42.5,"y":-15.2},{"s":"O","x":-40,"y":-13.3},{"s":"O","x":-36.8,"y":-12.3},{"s":"O","x":-35,"y":-13.3},{"s":"O","x":-33.5,"y":-15.5},{"s":"O","x":-32,"y":-19},{"s":"O","x":-31,"y":-22.5},{"s":"O","x":-30.2,"y":-27.3},{"s":"O","x":-29.2,"y":-23},{"s":"O","x":-28,"y":-18},{"s":"O","x":-26.5,"y":-14},{"s":"O","x":-24.5,"y":-11.8},{"s":"O","x":-22.5,"y":-13},{"s":"O","x":-21,"y":-16.5},{"s":"O","x":-20,"y":-22},{"s":"O","x":-19,"y":-30.5},{"s":"O","x":-18,"y":-21.5},{"s":"O","x":-16.8,"y":-13},{"s":"O","x":-15,"y":-7.5},{"s":"O","x":-13,"y":-4.5},{"s":"O","x":-11,"y":-3.1},{"s":"O","x":-9.3,"y":-2.8},{"s":"O","x":-7.5,"y":-3.5},{"s":"O","x":-5.5,"y":-6},{"s":"O","x":-3.5,"y":-10},{"s":"O","x":-2,"y":-15},{"s":"O","x":-0.8,"y":-20},{"s":"O","x":0.6,"y":-27},{"s":"O","x":1.6,"y":-30.5},{"s":"O","x":2.8,"y":-31},{"s":"O","x":3.5,"y":-34},{"s":"O","x":4.2,"y":-37.7},{"s":"O","x":5,"y":-31},{"s":"O","x":6,"y":-23},{"s":"O","x":7.5,"y":-18},{"s":"O","x":10.1,"y":-15},{"s":"O","x":12,"y":-15.7},{"s":"O","x":14,"y":-18.5},{"s":"O","x":15.5,"y":-23},{"s":"O","x":16.7,"y":-28.8},{"s":"O","x":17.8,"y":-24.5},{"s":"O","x":19.5,"y":-20.3},{"s":"O","x":21,"y":-19.1},{"s":"O","x":22.5,"y":-20},{"s":"O","x":24,"y":-23.5},{"s":"O","x":25.8,"y":-31.3},{"s":"O","x":27,"y":-26},{"s":"O","x":28.5,"y":-20.5},{"s":"O","x":30.4,"y":-18.8},{"s":"O","x":32,"y":-20.3},{"s":"O","x":33,"y":-24},{"s":"O","x":34,"y":-30.5},{"s":"O","x":35,"y":-25},{"s":"O","x":36.5,"y":-16},{"s":"O","x":38,"y":-10},{"s":"O","x":40,"y":-5.5},{"s":"O","x":43,"y":-2.2},{"s":"O","x":46,"y":-0.6},{"s":"O","x":49,"y":0},{"s":"O","x":52,"y":-0.5},{"s":"O","x":55,"y":-1.7},{"s":"O","x":58,"y":-3.8},{"s":"O","x":60,"y":-6.5},
{"s":"R","x":-60,"y":-27.9},{"s":"R","x":-58.5,"y":-24.8},{"s":"R","x":-56.4,"y":-23.5},{"s":"R","x":-55,"y":-26},{"s":"R","x":-54,"y":-30.5},{"s":"R","x":-53.2,"y":-37.2},{"s":"R","x":-52,"y":-33},{"s":"R","x":-50.5,"y":-27},{"s":"R","x":-48.5,"y":-21},{"s":"R","x":-46.5,"y":-17.5},{"s":"R","x":-44.5,"y":-16},{"s":"R","x":-42,"y":-15.8},{"s":"R","x":-39.5,"y":-16.6},{"s":"R","x":-37.5,"y":-16.8},{"s":"R","x":-35.5,"y":-16},{"s":"R","x":-33,"y":-15.8},{"s":"R","x":-31,"y":-17.3},{"s":"R","x":-29.3,"y":-21},{"s":"R","x":-27.5,"y":-17},{"s":"R","x":-25.5,"y":-12},{"s":"R","x":-23.5,"y":-10},{"s":"R","x":-22.1,"y":-9.6},{"s":"R","x":-20.5,"y":-10.5},{"s":"R","x":-19,"y":-14},{"s":"R","x":-18,"y":-19},{"s":"R","x":-17.2,"y":-29.8},{"s":"R","x":-16.2,"y":-18},{"s":"R","x":-14.5,"y":-9},{"s":"R","x":-12.5,"y":-4},{"s":"R","x":-10.5,"y":-1.2},{"s":"R","x":-8.4,"y":0},{"s":"R","x":-6.5,"y":-1.2},{"s":"R","x":-4.5,"y":-3.8},{"s":"R","x":-2.5,"y":-8},{"s":"R","x":-1,"y":-13.5},{"s":"R","x":0.2,"y":-21},{"s":"R","x":1,"y":-29.2},{"s":"R","x":2,"y":-22.5},{"s":"R","x":3.3,"y":-18.7},{"s":"R","x":4.6,"y":-18.1},{"s":"R","x":5.8,"y":-19},{"s":"R","x":7,"y":-23},{"s":"R","x":8.2,"y":-30.1},{"s":"R","x":9.2,"y":-25},{"s":"R","x":10.5,"y":-20.5},{"s":"R","x":12.5,"y":-18.5},{"s":"R","x":14.5,"y":-17.5},{"s":"R","x":16.5,"y":-16.8},{"s":"R","x":18,"y":-15.5},{"s":"R","x":19.8,"y":-15},{"s":"R","x":21.5,"y":-16.3},{"s":"R","x":23.5,"y":-19},{"s":"R","x":25.8,"y":-23.3},{"s":"R","x":27,"y":-20.5},{"s":"R","x":28.5,"y":-15.5},{"s":"R","x":30.5,"y":-12.2},{"s":"R","x":33.1,"y":-11.4},{"s":"R","x":34.8,"y":-13},{"s":"R","x":36,"y":-16},{"s":"R","x":37,"y":-21},{"s":"R","x":37.7,"y":-25.2},{"s":"R","x":38.7,"y":-18},{"s":"R","x":40,"y":-10},{"s":"R","x":42,"y":-5.2},{"s":"R","x":44.5,"y":-2.3},{"s":"R","x":47,"y":-0.7},{"s":"R","x":50,"y":0},{"s":"R","x":53,"y":-0.8},{"s":"R","x":56,"y":-2.5},{"s":"R","x":58,"y":-4.5},{"s":"R","x":60,"y":-7.8},
{"s":"G","x":-60,"y":-17.6},{"s":"G","x":-57.5,"y":-17.2},{"s":"G","x":-55,"y":-15.5},{"s":"G","x":-52.5,"y":-12.8},{"s":"G","x":-50,"y":-10.5},{"s":"G","x":-47.5,"y":-8.7},{"s":"G","x":-45,"y":-7.8},{"s":"G","x":-43.6,"y":-7.6},{"s":"G","x":-41.5,"y":-8.8},{"s":"G","x":-39.5,"y":-12},{"s":"G","x":-37.5,"y":-16},{"s":"G","x":-36.2,"y":-19.9},{"s":"G","x":-35,"y":-17},{"s":"G","x":-33.5,"y":-12.5},{"s":"G","x":-31.5,"y":-8},{"s":"G","x":-29.5,"y":-4.5},{"s":"G","x":-27.5,"y":-2},{"s":"G","x":-25.5,"y":-0.6},{"s":"G","x":-23.5,"y":-0.05},{"s":"G","x":-21.7,"y":-0.1},{"s":"G","x":-19.5,"y":-1.2},{"s":"G","x":-17,"y":-3.5},{"s":"G","x":-15,"y":-7},{"s":"G","x":-13,"y":-11},{"s":"G","x":-11.5,"y":-15.5},{"s":"G","x":-10.5,"y":-19.1},{"s":"G","x":-9.2,"y":-18},{"s":"G","x":-7.8,"y":-17.6},{"s":"G","x":-6.5,"y":-18.5},{"s":"G","x":-5.2,"y":-21},{"s":"G","x":-4.2,"y":-25.5},{"s":"G","x":-3.3,"y":-32},{"s":"G","x":-2.3,"y":-25},{"s":"G","x":-1,"y":-18},{"s":"G","x":1,"y":-13.5},{"s":"G","x":2.8,"y":-12},{"s":"G","x":4.6,"y":-11.8},{"s":"G","x":6.3,"y":-12.5},{"s":"G","x":8,"y":-14.8},{"s":"G","x":9.5,"y":-18.5},{"s":"G","x":10.5,"y":-22.5},{"s":"G","x":11.3,"y":-27.1},{"s":"G","x":12.2,"y":-22},{"s":"G","x":13.8,"y":-17.5},{"s":"G","x":15.8,"y":-15.2},{"s":"G","x":17.9,"y":-14.8},{"s":"G","x":20,"y":-15.4},{"s":"G","x":21.6,"y":-15.7},{"s":"G","x":23.5,"y":-14.3},{"s":"G","x":25.5,"y":-12},{"s":"G","x":27.3,"y":-10.2},{"s":"G","x":28.8,"y":-9.8},{"s":"G","x":30.5,"y":-10.4},{"s":"G","x":32.5,"y":-12.5},{"s":"G","x":34.3,"y":-16.5},{"s":"G","x":36.1,"y":-21.9},{"s":"G","x":37.3,"y":-16},{"s":"G","x":39,"y":-10.5},{"s":"G","x":41,"y":-6},{"s":"G","x":44,"y":-2.5},{"s":"G","x":47,"y":-0.6},{"s":"G","x":50,"y":0},{"s":"G","x":53,"y":-0.3},{"s":"G","x":56,"y":-0.8},{"s":"G","x":60,"y":-2.1},
{"s":"M","x":-60,"y":-0.7},{"s":"M","x":-57.5,"y":-1.2},{"s":"M","x":-55,"y":-2.2},{"s":"M","x":-52.5,"y":-3.7},{"s":"M","x":-50,"y":-5.7},{"s":"M","x":-47.5,"y":-8.2},{"s":"M","x":-45,"y":-11.3},{"s":"M","x":-43,"y":-14.5},{"s":"M","x":-41,"y":-19},{"s":"M","x":-39.5,"y":-25},{"s":"M","x":-38.1,"y":-35.1},{"s":"M","x":-37,"y":-27},{"s":"M","x":-35.8,"y":-21},{"s":"M","x":-34,"y":-17.3},{"s":"M","x":-32.5,"y":-15.7},{"s":"M","x":-31.2,"y":-15.2},{"s":"M","x":-29.5,"y":-15.8},{"s":"M","x":-28,"y":-17.5},{"s":"M","x":-26.5,"y":-20},{"s":"M","x":-25,"y":-23.5},{"s":"M","x":-23.8,"y":-28},{"s":"M","x":-23,"y":-32.3},{"s":"M","x":-22.2,"y":-31},{"s":"M","x":-21,"y":-24},{"s":"M","x":-19.5,"y":-18},{"s":"M","x":-17.5,"y":-14},{"s":"M","x":-15,"y":-11.8},{"s":"M","x":-12.5,"y":-10.8},{"s":"M","x":-10.5,"y":-10.6},{"s":"M","x":-8,"y":-11.3},{"s":"M","x":-5.5,"y":-13.3},{"s":"M","x":-3,"y":-16.5},{"s":"M","x":-0.8,"y":-19.5},{"s":"M","x":1.5,"y":-20.8},{"s":"M","x":4,"y":-21.5},{"s":"M","x":6,"y":-22.5},{"s":"M","x":7.5,"y":-25.5},{"s":"M","x":8.5,"y":-30},{"s":"M","x":9.3,"y":-37},{"s":"M","x":9.8,"y":-45.3},{"s":"M","x":10.6,"y":-37},{"s":"M","x":11.5,"y":-27},{"s":"M","x":12.8,"y":-20},{"s":"M","x":14.5,"y":-16},{"s":"M","x":17,"y":-13.3},{"s":"M","x":19.5,"y":-12},{"s":"M","x":21.3,"y":-11.8},{"s":"M","x":23.5,"y":-12.3},{"s":"M","x":25.5,"y":-13.8},{"s":"M","x":27,"y":-16},{"s":"M","x":28.5,"y":-19.5},{"s":"M","x":29.8,"y":-24},{"s":"M","x":30.9,"y":-27.9},{"s":"M","x":32,"y":-23},{"s":"M","x":33,"y":-17.5},{"s":"M","x":34.5,"y":-12},{"s":"M","x":36.5,"y":-7.8},{"s":"M","x":39,"y":-4.7},{"s":"M","x":42,"y":-2.4},{"s":"M","x":45,"y":-0.9},{"s":"M","x":48,"y":-0.1},{"s":"M","x":50,"y":0},{"s":"M","x":53,"y":-0.5},{"s":"M","x":56,"y":-1.8},{"s":"M","x":58,"y":-3.3},{"s":"M","x":60,"y":-6}
]
},
"vconcat": [
{"hconcat": [
{"width": 330, "height": 262, "data": {"name": "a"}, "title": {"text": "(a)\u00a0\u00a0\u00a0Az=0°\u00a0\u00a0\u00a0(1\u00a0\u00a0\u00a0GHz)", "dx": -25},
 "resolve": {"axis": {"x": "independent", "y": "independent"}},
 "layer": [
 {"mark": {"type": "line", "strokeWidth": 1.8, "interpolate": "monotone", "clip": true},
  "encoding": {
   "x": {"field": "x", "type": "quantitative", "scale": {"domain": [-60, 60], "nice": false}, "axis": {"orient": "bottom", "title": "AZ\u00a0(\u00a0\u00a0°\u00a0\u00a0)", "values": [-60,-40,-20,0,20,40,60], "labelExpr": "'' + datum.value"}},
   "y": {"field": "y", "type": "quantitative", "scale": {"domain": [-60, 0], "nice": false}, "axis": {"orient": "left", "title": "Power Spectrum (dB)", "values": [-60,-50,-40,-30,-20,-10,0], "labelExpr": "'' + datum.value"}},
   "color": {"field": "s", "type": "nominal", "scale": {"domain": ["O","G","R","M"], "range": ["#0000ff","#00ff00","#ff0000","#ff00ff"]}, "legend": {"orient": "none", "legendX": 76, "legendY": 218, "title": null, "labelExpr": "datum.label == 'O' ? 'Opt. array' : datum.label == 'R' ? 'd = 150 mm' : datum.label == 'G' ? 'd = 122 mm' : 'd = 75 mm'"}}
  }},
 {"mark": {"type": "line", "opacity": 0},
  "encoding": {
   "x": {"field": "x", "type": "quantitative", "axis": {"orient": "top", "labels": false, "title": null, "values": [-60,-40,-20,0,20,40,60]}},
   "y": {"field": "y", "type": "quantitative", "axis": {"orient": "right", "labels": false, "title": null, "values": [-60,-50,-40,-30,-20,-10,0]}}
  }}
 ]},
{"width": 330, "height": 262, "data": {"name": "b"}, "title": {"text": "(b)\u00a0\u00a0\u00a0Az=0°\u00a0\u00a0\u00a0(1.5\u00a0\u00a0\u00a0GHz)", "dx": -9},
 "resolve": {"axis": {"x": "independent", "y": "independent"}},
 "layer": [
 {"mark": {"type": "line", "strokeWidth": 1.8, "interpolate": "monotone", "clip": true},
  "encoding": {
   "x": {"field": "x", "type": "quantitative", "scale": {"domain": [-60, 60], "nice": false}, "axis": {"orient": "bottom", "title": "AZ\u00a0(\u00a0\u00a0°\u00a0\u00a0)", "values": [-60,-40,-20,0,20,40,60], "labelExpr": "'' + datum.value"}},
   "y": {"field": "y", "type": "quantitative", "scale": {"domain": [-60, 0], "nice": false}, "axis": {"orient": "left", "title": "Power Spectrum (dB)", "values": [-60,-50,-40,-30,-20,-10,0], "labelExpr": "'' + datum.value"}},
   "color": {"field": "s", "type": "nominal", "scale": {"domain": ["O","G","R","M"], "range": ["#0000ff","#00ff00","#ff0000","#ff00ff"]}, "legend": {"orient": "none", "legendX": 69, "legendY": 218, "title": null, "labelExpr": "datum.label == 'O' ? 'Opt. array' : datum.label == 'R' ? 'd= 150 mm' : datum.label == 'G' ? 'd= 122 mm' : 'd= 75 mm'"}}
  }},
 {"mark": {"type": "line", "opacity": 0},
  "encoding": {
   "x": {"field": "x", "type": "quantitative", "axis": {"orient": "top", "labels": false, "title": null, "values": [-60,-40,-20,0,20,40,60]}},
   "y": {"field": "y", "type": "quantitative", "axis": {"orient": "right", "labels": false, "title": null, "values": [-60,-50,-40,-30,-20,-10,0]}}
  }}
 ]}
], "spacing": 54, "resolve": {"scale": {"color": "independent"}, "legend": {"color": "independent"}}},
{"hconcat": [
{"width": 330, "height": 262, "data": {"name": "c"}, "title": {"text": "(c)\u00a0\u00a0\u00a0Az=0°\u00a0\u00a0\u00a0(2\u00a0\u00a0\u00a0GHz)", "dx": -29},
 "resolve": {"axis": {"x": "independent", "y": "independent"}},
 "layer": [
 {"mark": {"type": "line", "strokeWidth": 1.8, "interpolate": "monotone", "clip": true},
  "encoding": {
   "x": {"field": "x", "type": "quantitative", "scale": {"domain": [-60, 60], "nice": false}, "axis": {"orient": "bottom", "title": "AZ\u00a0(\u00a0\u00a0°\u00a0\u00a0)", "values": [-60,-40,-20,0,20,40,60], "labelExpr": "'' + datum.value"}},
   "y": {"field": "y", "type": "quantitative", "scale": {"domain": [-60, 0], "nice": false}, "axis": {"orient": "left", "title": "Power Spectrum (dB)", "values": [-60,-50,-40,-30,-20,-10,0], "labelExpr": "'' + datum.value"}},
   "color": {"field": "s", "type": "nominal", "scale": {"domain": ["O","G","R","M"], "range": ["#0000ff","#00ff00","#ff0000","#ff00ff"]}, "legend": {"orient": "none", "legendX": 68, "legendY": 218, "title": null, "labelExpr": "datum.label == 'O' ? 'Opt. array' : datum.label == 'R' ? 'd = 150 mm' : datum.label == 'G' ? 'd = 122 mm' : 'd = 75 mm'"}}
  }},
 {"mark": {"type": "line", "opacity": 0},
  "encoding": {
   "x": {"field": "x", "type": "quantitative", "axis": {"orient": "top", "labels": false, "title": null, "values": [-60,-40,-20,0,20,40,60]}},
   "y": {"field": "y", "type": "quantitative", "axis": {"orient": "right", "labels": false, "title": null, "values": [-60,-50,-40,-30,-20,-10,0]}}
  }}
 ]},
{"width": 330, "height": 262, "data": {"name": "d"}, "title": {"text": "(d)\u00a0\u00a0\u00a0Az=50°\u00a0\u00a0\u00a0(1\u00a0\u00a0\u00a0GHz)", "dx": -25},
 "resolve": {"axis": {"x": "independent", "y": "independent"}},
 "layer": [
 {"mark": {"type": "line", "strokeWidth": 1.8, "interpolate": "monotone", "clip": true},
  "encoding": {
   "x": {"field": "x", "type": "quantitative", "scale": {"domain": [-60, 60], "nice": false}, "axis": {"orient": "bottom", "title": "AZ\u00a0(\u00a0\u00a0°\u00a0\u00a0)", "values": [-60,-40,-20,0,20,40,60], "labelExpr": "'' + datum.value"}},
   "y": {"field": "y", "type": "quantitative", "scale": {"domain": [-60, 0], "nice": false}, "axis": {"orient": "left", "title": "Power Spectrum (dB)", "values": [-60,-50,-40,-30,-20,-10,0], "labelExpr": "'' + datum.value"}},
   "color": {"field": "s", "type": "nominal", "scale": {"domain": ["O","G","R","M"], "range": ["#0000ff","#00ff00","#ff0000","#ff00ff"]}, "legend": {"orient": "none", "legendX": 64, "legendY": 209, "title": null, "labelExpr": "datum.label == 'O' ? 'Opt. array' : datum.label == 'R' ? 'd= 150 mm' : datum.label == 'G' ? 'd= 122 mm' : 'd= 75 mm'"}}
  }},
 {"mark": {"type": "line", "opacity": 0},
  "encoding": {
   "x": {"field": "x", "type": "quantitative", "axis": {"orient": "top", "labels": false, "title": null, "values": [-60,-40,-20,0,20,40,60]}},
   "y": {"field": "y", "type": "quantitative", "axis": {"orient": "right", "labels": false, "title": null, "values": [-60,-50,-40,-30,-20,-10,0]}}
  }}
 ]}
], "spacing": 54, "resolve": {"scale": {"color": "independent"}, "legend": {"color": "independent"}}},
{"hconcat": [
{"width": 330, "height": 262, "data": {"name": "e"}, "title": {"text": "(e)\u00a0\u00a0\u00a0Az=50°\u00a0\u00a0\u00a0(1.5\u00a0\u00a0\u00a0GHz)", "dx": -25},
 "resolve": {"axis": {"x": "independent", "y": "independent"}},
 "layer": [
 {"mark": {"type": "line", "strokeWidth": 1.8, "interpolate": "monotone", "clip": true},
  "encoding": {
   "x": {"field": "x", "type": "quantitative", "scale": {"domain": [-60, 60], "nice": false}, "axis": {"orient": "bottom", "title": "AZ\u00a0(\u00a0\u00a0°\u00a0\u00a0)", "values": [-60,-40,-20,0,20,40,60], "labelExpr": "'' + datum.value"}},
   "y": {"field": "y", "type": "quantitative", "scale": {"domain": [-60, 0], "nice": false}, "axis": {"orient": "left", "title": "Power Spectrum (dB)", "values": [-60,-50,-40,-30,-20,-10,0], "labelExpr": "'' + datum.value"}},
   "color": {"field": "s", "type": "nominal", "scale": {"domain": ["O","G","R","M"], "range": ["#0000ff","#00ff00","#ff0000","#ff00ff"]}, "legend": {"orient": "none", "legendX": 18, "legendY": 209, "title": null, "labelExpr": "datum.label == 'O' ? 'Opt. array' : datum.label == 'R' ? 'd= 150 mm' : datum.label == 'G' ? 'd= 122 mm' : 'd= 75 mm'"}}
  }},
 {"mark": {"type": "line", "opacity": 0},
  "encoding": {
   "x": {"field": "x", "type": "quantitative", "axis": {"orient": "top", "labels": false, "title": null, "values": [-60,-40,-20,0,20,40,60]}},
   "y": {"field": "y", "type": "quantitative", "axis": {"orient": "right", "labels": false, "title": null, "values": [-60,-50,-40,-30,-20,-10,0]}}
  }}
 ]},
{"width": 330, "height": 262, "data": {"name": "f"}, "title": {"text": "(f)\u00a0\u00a0\u00a0Az=50°\u00a0\u00a0\u00a0(2\u00a0\u00a0\u00a0GHz)", "dx": -8},
 "resolve": {"axis": {"x": "independent", "y": "independent"}},
 "layer": [
 {"mark": {"type": "line", "strokeWidth": 1.8, "interpolate": "monotone", "clip": true},
  "encoding": {
   "x": {"field": "x", "type": "quantitative", "scale": {"domain": [-60, 60], "nice": false}, "axis": {"orient": "bottom", "title": "AZ\u00a0(\u00a0\u00a0°\u00a0\u00a0)", "values": [-60,-40,-20,0,20,40,60], "labelExpr": "'' + datum.value"}},
   "y": {"field": "y", "type": "quantitative", "scale": {"domain": [-60, 0], "nice": false}, "axis": {"orient": "left", "title": "Power Spectrum (dB)", "values": [-60,-50,-40,-30,-20,-10,0], "labelExpr": "'' + datum.value"}},
   "color": {"field": "s", "type": "nominal", "scale": {"domain": ["O","G","R","M"], "range": ["#0000ff","#00ff00","#ff0000","#ff00ff"]}, "legend": {"orient": "none", "legendX": 68, "legendY": 222, "title": null, "labelExpr": "datum.label == 'O' ? 'Opt. array' : datum.label == 'R' ? 'd= 150 mm' : datum.label == 'G' ? 'd= 122 mm' : 'd= 75 mm'"}}
  }},
 {"mark": {"type": "line", "opacity": 0},
  "encoding": {
   "x": {"field": "x", "type": "quantitative", "axis": {"orient": "top", "labels": false, "title": null, "values": [-60,-40,-20,0,20,40,60]}},
   "y": {"field": "y", "type": "quantitative", "axis": {"orient": "right", "labels": false, "title": null, "values": [-60,-50,-40,-30,-20,-10,0]}}
  }}
 ]}
], "spacing": 54, "resolve": {"scale": {"color": "independent"}, "legend": {"color": "independent"}}}
],
"spacing": 63,
"resolve": {"scale": {"color": "independent"}, "legend": {"color": "independent"}},
"config": {
 "font": "Liberation Serif",
 "view": {"stroke": "#808080", "strokeWidth": 1},
 "axis": {"grid": false, "domain": false, "ticks": true, "tickColor": "#808080", "tickSize": -4, "tickWidth": 1, "labelFont": "Liberation Serif", "labelFontSize": 13, "labelColor": "#303030", "labelFlush": false, "labelOverlap": false, "titleFont": "Liberation Serif", "titleFontSize": 15, "titleFontWeight": "normal", "titleColor": "#111111"},
 "axisX": {"labelPadding": 11, "titlePadding": 9},
 "axisY": {"labelPadding": 9, "titlePadding": 10},
 "legend": {"symbolType": "M-1,0H5.6", "symbolSize": 100, "symbolStrokeWidth": 2, "labelFont": "Liberation Serif", "labelFontSize": 15, "labelColor": "#000000", "columns": 2, "columnPadding": 0, "rowPadding": 3, "labelOffset": 25, "labelLimit": 200},
 "title": {"orient": "bottom", "font": "Liberation Serif", "fontSize": 28, "fontWeight": "normal", "color": "#000000", "offset": 30}
}
}
